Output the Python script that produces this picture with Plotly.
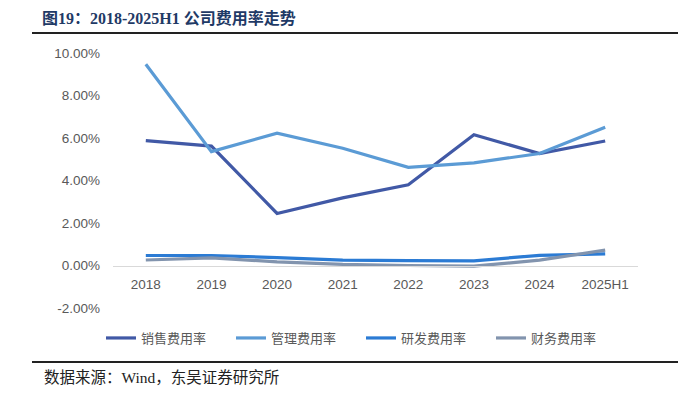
import plotly.graph_objects as go

categories = ["2018", "2019", "2020", "2021", "2022", "2023", "2024", "2025H1"]
sales_rate = [5.88, 5.62, 2.45, 3.18, 3.80, 6.15, 5.27, 5.86]
admin_rate = [9.47, 5.36, 6.23, 5.52, 4.62, 4.83, 5.27, 6.51]
rd_rate = [0.47, 0.47, 0.37, 0.25, 0.23, 0.22, 0.48, 0.55]
fin_rate = [0.26, 0.36, 0.17, 0.05, 0.00, -0.03, 0.25, 0.72]
y_ticks = [-2, 0, 2, 4, 6, 8, 10]
y_tick_text = ["-2.00%", "0.00%", "2.00%", "4.00%", "6.00%", "8.00%", "10.00%"]

series = [
    ("销售费用率", sales_rate, "#4159A6"),
    ("管理费用率", admin_rate, "#5B9BD5"),
    ("研发费用率", rd_rate, "#2B7BD4"),
    ("财务费用率", fin_rate, "#8294AE"),
]

# page body has an 8px margin; figure sized to fit the window
OFF = 8
W, H = 686 - 2 * OFF, 402 - 2 * OFF
L, T = 113 - OFF, 53 - OFF
R = W - (638 - OFF)
B = H - (308 - OFF)
pw, ph = W - L - R, H - T - B

def px(x):
    return (x - OFF - L) / pw

def py(y):
    return (H - B - (y - OFF)) / ph

fig = go.Figure()
for name, vals, color in series:
    fig.add_trace(go.Scatter(
        x=categories, y=vals, name=name, mode="lines",
        line=dict(color=color, width=3.2),
    ))

axis_font = dict(family="Liberation Sans, Arial, sans-serif", size=13.5, color="#595959")

fig.update_layout(
    width=W, height=H,
    margin=dict(l=L, r=R, t=T, b=B),
    paper_bgcolor="white", plot_bgcolor="white",
    showlegend=True,
    legend=dict(
        orientation="h", x=px(101), xanchor="left", y=py(338), yanchor="middle",
        font=dict(family="Noto Sans CJK SC, sans-serif", size=13, color="#595959"),
        entrywidth=85, itemwidth=30, tracegroupgap=0,
    ),
    title=dict(
        text="<b>图19：2018-2025H1 公司费用率走势</b>",
        xref="container", yref="container",
        x=(42 - OFF) / W, xanchor="left", y=1 - (18 - OFF) / H, yanchor="middle",
        font=dict(family="Liberation Serif, Noto Sans CJK SC, serif", size=16, color="#1F3A66"),
    ),
    xaxis=dict(
        type="category", range=[-0.5, 7.5],
        anchor="free", position=(0 - (-2)) / 12,
        showline=True, linecolor="#D9D9D9", linewidth=1.3,
        showgrid=False, zeroline=False, ticks="",
        tickfont=axis_font, ticklabelstandoff=6,
    ),
    yaxis=dict(
        range=[-2, 10], tickvals=y_ticks, ticktext=y_tick_text,
        showgrid=False, zeroline=False, showline=False, ticks="",
        tickfont=axis_font, ticklabelstandoff=12,
    ),
    shapes=[
        dict(type="line", xref="paper", yref="paper", x0=px(32), x1=px(700),
             y0=py(33), y1=py(33), line=dict(color="#222222", width=2)),
        dict(type="line", xref="paper", yref="paper", x0=px(32), x1=px(700),
             y0=py(362), y1=py(362), line=dict(color="#222222", width=2)),
    ],
    annotations=[
        dict(text="数据来源：Wind，东吴证券研究所", xref="paper", yref="paper",
             x=px(42), xanchor="left", y=py(377), yanchor="middle", showarrow=False,
             font=dict(family="Liberation Serif, Noto Sans CJK SC, serif", size=15.5, color="#222222")),
    ],
)

fig.write_html("out.html")
